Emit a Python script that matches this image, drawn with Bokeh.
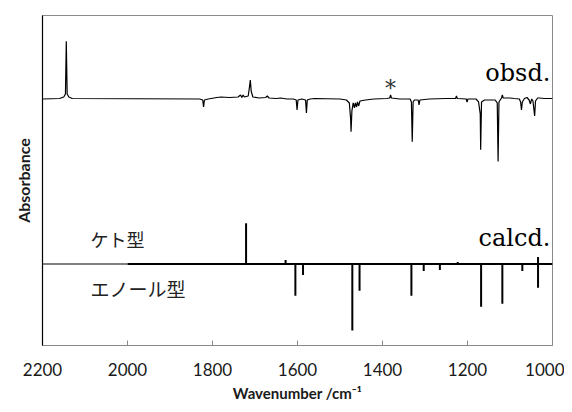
from bokeh.plotting import figure
from bokeh.models import Range1d, FixedTicker
from bokeh.core.properties import value
from bokeh.embed import file_html
from bokeh.resources import INLINE

# ---------------- data ----------------
# observed spectrum (difference spectrum), wavenumber / relative absorbance
obsd_x = [2200, 2160, 2150, 2146, 2144, 2142, 2138, 2130,
          1830, 1823, 1821, 1819, 1810, 1790, 1780, 1760, 1740, 1734, 1731, 1728, 1725,
          1716, 1713, 1711, 1709, 1705, 1690, 1675, 1671, 1667, 1650, 1640, 1625,
          1610, 1603, 1601, 1599, 1590, 1581, 1579, 1577, 1570, 1560, 1500,
          1485, 1478, 1475, 1474, 1472, 1469, 1466, 1464, 1461, 1459, 1456, 1453,
          1440, 1420, 1390, 1383, 1381, 1379, 1360, 1335, 1332, 1330, 1328, 1325,
          1316, 1314, 1312, 1290, 1250, 1228, 1226, 1224, 1203, 1201, 1199, 1180,
          1174, 1170, 1169, 1167, 1160, 1135, 1130, 1128, 1126, 1120, 1118, 1116,
          1100, 1090, 1078, 1075, 1073, 1071, 1066, 1060, 1055, 1052, 1049, 1046,
          1042, 1040, 1035, 1030, 1020, 1000]
obsd_y = [0, 0.5, 2, 5, 58, 5, 2, 0.5,
          0, -1, -8, -1, 0, 1.5, 2, 1.5, 2, 4, 1.5, 4, 2,
          3, 12, 19, 8, 2, 1, 1.5, 3, 1, 0.5, 1, 0,
          0, -1, -11, -1, 0, -1, -14, -1, 0, 0.5, 0,
          -1, -4, -20, -33, -12, -4, -9, -4, -8, -3, -7, -2,
          -1, 0, 0.5, 1, 4, 1, 0, 0, -3, -43, -3, -1,
          -1, -6, -1, 0, 0.5, 0.5, 3, 0.5, 0, -3, 0, 0,
          -3, -15, -51, -3, -1, -1, -4, -63, -3, 1, 4, 1,
          1, 0.5, 0, -3, -11, -3, 0.5, 1.5, -1, -5, 0, -2,
          -17, -2, 1, 1, 0.5, 0.5]

# calculated stick spectra
keto_x = [1721, 1628, 1223, 1034]
keto_y = [41, 4, 2, 7]
enol_x = [1605, 1587, 1471, 1454, 1332, 1303, 1265, 1168, 1118, 1071, 1034]
enol_y = [-32, -11, -67, -27, -32, -7, -6, -43, -40, -7, -24]

x_ticks = [2200, 2000, 1800, 1600, 1400, 1200, 1000]
obsd_offset = 166
calcd_offset = 0

# ---------------- figure ----------------
p = figure(width=564, height=404, output_backend="svg", toolbar_location=None,
           x_range=Range1d(2200, 1000), y_range=Range1d(-82, 250),
           min_border_left=42, min_border_right=12, min_border_top=15,
           min_border_bottom=57)
p.grid.visible = False
p.outline_line_color = "#8a8a8a"
p.outline_line_width = 1
p.background_fill_color = "white"
p.border_fill_color = "white"

# x axis
xa = p.xaxis[0]
xa.ticker = FixedTicker(ticks=x_ticks)
xa.major_tick_in = 5
xa.major_tick_out = 0
xa.minor_tick_line_color = None
xa.axis_line_color = "#8a8a8a"
xa.major_tick_line_color = "#8a8a8a"
xa.major_label_text_font = "Lato"
xa.major_label_text_font_size = "17px"
xa.major_label_text_color = "#1a1a1a"
xa.major_label_standoff = 17
xa.axis_label = "Wavenumber /cm⁻¹"
xa.axis_label_text_font = "Lato"
xa.axis_label_text_font_style = "bold"
xa.axis_label_text_font_size = "15px"
xa.axis_label_text_color = "#1a1a1a"
xa.axis_label_standoff = 5

# y axis
ya = p.yaxis[0]
ya.ticker = FixedTicker(ticks=[])
ya.major_tick_line_color = None
ya.minor_tick_line_color = None
ya.axis_line_color = "black"
ya.axis_line_width = 1.2
ya.axis_label = "Absorbance"
ya.axis_label_text_font = "Lato"
ya.axis_label_text_font_style = "bold"
ya.axis_label_text_font_size = "16px"
ya.axis_label_text_color = "#1a1a1a"
ya.axis_label_standoff = 10

# observed trace
p.line(obsd_x, [y + obsd_offset for y in obsd_y],
       line_color="black", line_width=1.2)

# calculated baseline
p.line([2200, 2000], [calcd_offset, calcd_offset], line_color="#808080", line_width=2)
p.line([2000, 1000], [calcd_offset, calcd_offset], line_color="black", line_width=2)

# sticks
p.segment(x0=keto_x, y0=[calcd_offset] * len(keto_x), x1=keto_x,
          y1=[calcd_offset + v for v in keto_y], line_color="black", line_width=2)
p.segment(x0=enol_x, y0=[calcd_offset] * len(enol_x), x1=enol_x,
          y1=[calcd_offset + v for v in enol_y], line_color="black", line_width=2)

# labels
p.text(x=[1005], y=[obsd_offset + 26], text=["obsd."], text_align="right",
       text_baseline="alphabetic", text_font=value("DejaVu Serif"),
       text_font_size="24px", text_color="black")
p.text(x=[1005], y=[calcd_offset + 26], text=["calcd."], text_align="right",
       text_baseline="alphabetic", text_font=value("DejaVu Serif"),
       text_font_size="24px", text_color="black")
p.text(x=[1381], y=[obsd_offset + 11], text=["*"], text_align="center",
       text_baseline="middle", text_font=value("DejaVu Serif"),
       text_font_size="22px", text_color="#333333")
p.text(x=[2087], y=[calcd_offset + 25], text=["ケト型"], text_align="left",
       text_baseline="middle", text_font=value("Noto Sans CJK JP"),
       text_font_size="18px", text_color="#222222")
p.text(x=[2087], y=[calcd_offset - 25], text=["エノール型"], text_align="left",
       text_baseline="middle", text_font=value("Noto Sans CJK JP"),
       text_font_size="19px", text_color="#222222")

open("out.html", "w").write(file_html(p, INLINE))
